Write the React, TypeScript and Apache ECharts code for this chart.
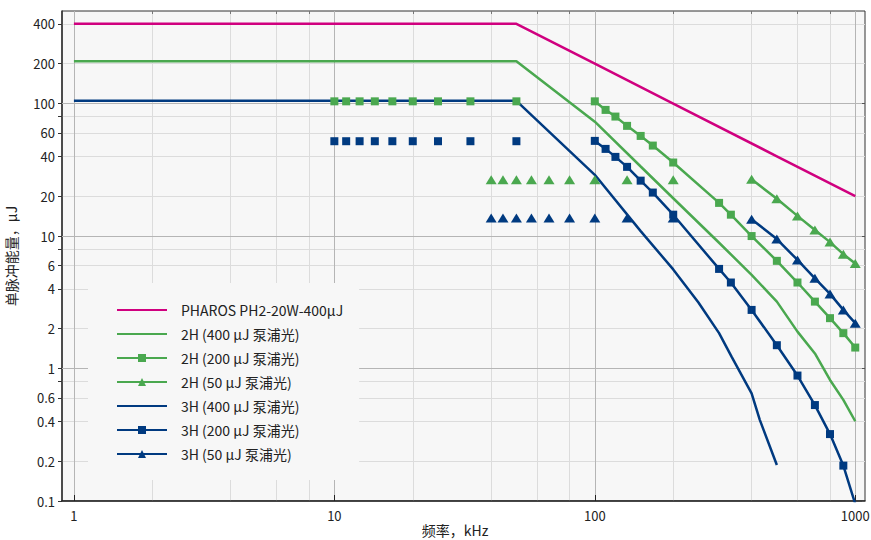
import React, { useEffect, useRef } from 'react';
import * as echarts from 'echarts';

const FONT = '"Noto Sans CJK SC", "Noto Sans", sans-serif';

// ---- data (frequency kHz, energy µJ) ----
const NAMES = [
  'PHAROS PH2-20W-400µJ',
  '2H (400 µJ 泵浦光)',
  '2H (200 µJ 泵浦光)',
  '2H (50 µJ 泵浦光)',
  '3H (400 µJ 泵浦光)',
  '3H (200 µJ 泵浦光)',
  '3H (50 µJ 泵浦光)',
];
const NO_MARKER = [true, true, false, false, true, false, false];

const pharosF = [1, 50, 100, 200, 500, 1000];
const pharosE = [400, 400, 200, 100, 40, 20];

const h2p400F = [1, 50, 100, 150, 200, 300, 400, 500, 600, 700, 800, 900, 1000];
const h2p400E = [209, 209, 73, 33.5, 19.3, 8.9, 5.1, 3.2, 1.9, 1.3, 0.82, 0.58, 0.4];

const h3p400F = [1, 50, 100, 150, 200, 250, 300, 335, 400, 430, 500];
const h3p400E = [105, 105, 29, 10.9, 5.6, 3.15, 1.85, 1.23, 0.65, 0.41, 0.187];

const p200FlatF = [10, 11.1, 12.5, 14.3, 16.7, 20, 25, 33.3, 50];
const h2p200FlatE = [104, 104, 104, 104, 104, 104, 104, 104, 104];
const h3p200FlatE = [52, 52, 52, 52, 52, 52, 52, 52, 52];

const p200LineF = [100, 110, 120, 133, 150, 167, 200, 300, 333, 400, 500, 600, 700, 800, 900, 1000];
const h2p200LineE = [104, 89.6, 79.8, 67.9, 57, 48.2, 35.9, 17.8, 14.5, 10, 6.5, 4.46, 3.2, 2.4, 1.85, 1.44];
const h3p200LineE = [52.3, 45.5, 39.6, 33.3, 26.2, 21.3, 14.5, 5.65, 4.46, 2.77, 1.5, 0.885, 0.53, 0.32, 0.185, 0.095];

const p50FlatF = [40, 44.4, 50, 57.1, 66.7, 80, 100, 133, 200];
const h2p50FlatE = [26.6, 26.6, 26.6, 26.6, 26.6, 26.6, 26.6, 26.6, 26.6];
const h3p50FlatE = [13.7, 13.7, 13.7, 13.7, 13.7, 13.7, 13.7, 13.7, 13.7];

const p50LineF = [400, 500, 600, 700, 800, 900, 1000];
const h2p50LineE = [26.8, 19.1, 14.2, 11.1, 9.0, 7.3, 6.2];
const h3p50LineE = [13.4, 9.5, 6.6, 4.8, 3.66, 2.77, 2.2];

// ---- axis ticks ----
const X_RANGE = [0.9, 1090];
const Y_RANGE = [0.1, 500];
const X_LABELS = [1, 10, 100, 1000];
const X_MAJOR = [1, 10, 100, 1000];
const X_MINOR = [2, 4, 6, 8, 20, 40, 60, 80, 200, 400, 600, 800];
const Y_LABELS = [0.1, 0.2, 0.4, 0.6, 1, 2, 4, 6, 10, 20, 40, 60, 100, 200, 400];
const Y_ALL = [0.1, 0.2, 0.4, 0.6, 0.8, 1, 2, 4, 6, 8, 10, 20, 40, 60, 80, 100, 200, 400];
const Y_MAJOR = [0.1, 1, 10, 100];

const MAGENTA = '#d0007f';
const GREEN = '#4aa84f';
const BLUE = '#003a80';
const MINOR_GRID = '#dcdcdc';
const MAJOR_GRID = '#b5b5b5';

const lg = (v: number) => Math.log10(v);
const pts = (fs: number[], es: number[]) => fs.map((f, i) => [lg(f), lg(es[i])]);
const fmt = (v: number) => String(Number(Math.pow(10, v).toPrecision(3)));

function lineSeries(name: string, fs: number[], es: number[], color: string, symbol: string, size: any, z = 2) {
  return {
    type: 'line',
    name,
    data: pts(fs, es),
    symbol,
    symbolSize: size,
    showSymbol: symbol !== 'none',
    showAllSymbol: true,
    clip: true,
    z,
    lineStyle: { color, width: 2.5 },
    itemStyle: { color },
    emphasis: { disabled: true },
    silent: true,
  };
}

function scatterSeries(name: string, fs: number[], es: number[], color: string, symbol: string, size: any, z = 3) {
  return {
    type: 'scatter',
    name,
    data: pts(fs, es),
    symbol,
    symbolSize: size,
    z,
    itemStyle: { color, opacity: 1 },
    emphasis: { disabled: true },
    silent: true,
  };
}

export default function App() {
  const ref = useRef<HTMLDivElement>(null);

  useEffect(() => {
    if (!ref.current) return;
    const chart = echarts.init(ref.current, undefined, { renderer: 'svg' });
    const SQ = 8;
    const TRI = [11, 9];
    const option: any = {
      animation: false,
      backgroundColor: '#ffffff',
      textStyle: { fontFamily: FONT },
      grid: {
        left: 62,
        right: 6,
        top: 11,
        bottom: 39,
        show: true,
        backgroundColor: '#f7f7f7',
        borderColor: '#333',
        borderWidth: 1,
        containLabel: false,
        outerBoundsMode: 'none',
      },
      legend: {
        orient: 'vertical',
        left: 88,
        top: 283,
        backgroundColor: '#f7f7f7',
        padding: [20, 16, 19, 28],
        itemWidth: 50,
        itemHeight: 10,
        itemGap: 10,
        selectedMode: false,
        symbolRotate: 0,
        data: NAMES.map((n, i) => (NO_MARKER[i] ? { name: n, itemStyle: { opacity: 0 } } : { name: n })),
        textStyle: { fontFamily: FONT, fontSize: 14, color: '#222', lineHeight: 14, padding: [0, 0, 0, 9] },
      },
      xAxis: [
        {
          type: 'value',
          position: 'bottom',
          min: lg(X_RANGE[0]),
          max: lg(X_RANGE[1]),
          z: 1,
          name: '频率，kHz',
          nameLocation: 'middle',
          nameGap: 22,
          nameMoveOverlap: false,
          nameTextStyle: { fontFamily: FONT, fontSize: 14, lineHeight: 14, color: '#222', padding: [0, 17, 0, 0] },
          axisLine: { show: true, onZero: false, lineStyle: { color: '#222', width: 1.5 } },
          axisTick: { show: true, inside: true, length: 6, customValues: X_MAJOR.map(lg), lineStyle: { color: '#222', width: 1 } },
          axisLabel: { customValues: X_LABELS.map(lg), formatter: fmt, fontFamily: FONT, fontSize: 13, color: '#222', margin: 8 },
          splitLine: { show: true, lineStyle: { color: MAJOR_GRID, width: 1 } },
        },
        {
          type: 'value',
          position: 'top',
          min: lg(X_RANGE[0]),
          max: lg(X_RANGE[1]),
          z: 0,
          axisLine: { show: false, onZero: false },
          axisTick: { show: true, inside: true, length: 3, customValues: X_MINOR.map(lg), lineStyle: { color: '#777' } },
          axisLabel: { show: false },
          splitLine: { show: true, lineStyle: { color: MINOR_GRID, width: 1 } },
        },
      ],
      yAxis: [
        {
          type: 'value',
          position: 'left',
          min: lg(Y_RANGE[0]),
          max: lg(Y_RANGE[1]),
          z: 0,
          name: '单脉冲能量，µJ',
          nameLocation: 'middle',
          nameRotate: 90,
          nameGap: 44,
          nameMoveOverlap: false,
          nameTextStyle: { fontFamily: FONT, fontSize: 14, color: '#222' },
          axisLine: { show: true, onZero: false, lineStyle: { color: '#333', width: 1.5 } },
          axisTick: { show: true, inside: false, length: 4, customValues: Y_ALL.map(lg), lineStyle: { color: '#333' } },
          axisLabel: { customValues: Y_LABELS.map(lg), formatter: fmt, fontFamily: FONT, fontSize: 13, color: '#222', margin: 7 },
          splitLine: { show: true, lineStyle: { color: MINOR_GRID, width: 1 } },
        },
        {
          type: 'value',
          position: 'right',
          min: lg(Y_RANGE[0]),
          max: lg(Y_RANGE[1]),
          z: 1,
          axisLine: { show: false, onZero: false },
          axisTick: { show: true, inside: true, length: 3, customValues: Y_MAJOR.map(lg), lineStyle: { color: '#555' } },
          axisLabel: { show: false },
          splitLine: { show: true, lineStyle: { color: MAJOR_GRID, width: 1 } },
        },
      ],
      series: [
        lineSeries(NAMES[0], pharosF, pharosE, MAGENTA, 'none', 0),
        lineSeries(NAMES[1], h2p400F, h2p400E, GREEN, 'none', 0),
        lineSeries(NAMES[2], p200LineF, h2p200LineE, GREEN, 'rect', SQ),
        scatterSeries(NAMES[2], p200FlatF, h2p200FlatE, GREEN, 'rect', SQ, 4),
        lineSeries(NAMES[3], p50LineF, h2p50LineE, GREEN, 'triangle', TRI),
        scatterSeries(NAMES[3], p50FlatF, h2p50FlatE, GREEN, 'triangle', TRI, 3),
        lineSeries(NAMES[4], h3p400F, h3p400E, BLUE, 'none', 0),
        lineSeries(NAMES[5], p200LineF, h3p200LineE, BLUE, 'rect', SQ, 3),
        scatterSeries(NAMES[5], p200FlatF, h3p200FlatE, BLUE, 'rect', SQ, 3),
        lineSeries(NAMES[6], p50LineF, h3p50LineE, BLUE, 'triangle', TRI),
        scatterSeries(NAMES[6], p50FlatF, h3p50FlatE, BLUE, 'triangle', TRI, 2),
      ],
    };
    chart.setOption(option);
    return () => chart.dispose();
  }, []);

  return (
    <div
      ref={ref}
      style={{ position: 'absolute', left: 0, top: 0, width: 871, height: 540, background: '#fff' }}
    />
  );
}
